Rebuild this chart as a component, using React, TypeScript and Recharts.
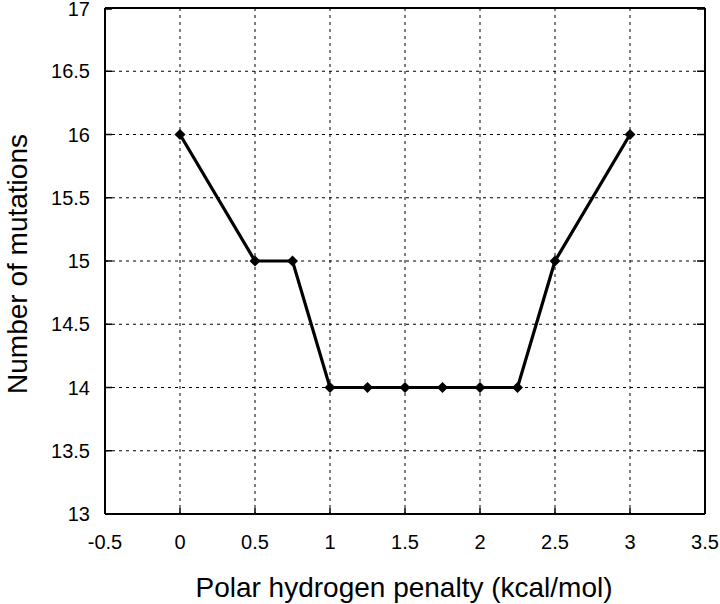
import { CartesianGrid, Label, Line, LineChart, ReferenceLine, XAxis, YAxis } from "recharts";

// Number of mutations as the polar hydrogen penalty is varied.
const penalty = [0, 0.5, 0.75, 1, 1.25, 1.5, 1.75, 2, 2.25, 2.5, 3];
const mutations = [16, 15, 15, 14, 14, 14, 14, 14, 14, 15, 16];
const xTicks = [-0.5, 0, 0.5, 1, 1.5, 2, 2.5, 3, 3.5];
const yTicks = [13, 13.5, 14, 14.5, 15, 15.5, 16, 16.5, 17];

const data = penalty.map((p, i) => ({ p, n: mutations[i] }));

const W = 720;
const H = 604;
const MARGIN = { top: 8, right: 15, bottom: 0, left: 0 };
const Y_AXIS_W = 105;
const X_AXIS_H = 90;
const PLOT_W = W - MARGIN.left - MARGIN.right - Y_AXIS_W;
const FONT = "'Liberation Sans', Arial, sans-serif";

function XTick({ x, y, payload }: any) {
  return (
    <g>
      <line x1={x} x2={x} y1={y} y2={y - 6} stroke="#000" strokeWidth={1.5} />
      <text x={x} y={y + 35} textAnchor="middle" fontSize={20} fontFamily={FONT} fill="#000">
        {payload.value}
      </text>
    </g>
  );
}

function YTick({ x, y, payload }: any) {
  return (
    <g>
      <line x1={x} x2={x + 7} y1={y} y2={y} stroke="#000" strokeWidth={1.5} />
      <line x1={x + PLOT_W - 8} x2={x + PLOT_W} y1={y} y2={y} stroke="#000" strokeWidth={1.5} />
      <text x={x - 15} y={y + 7} textAnchor="end" fontSize={20} fontFamily={FONT} fill="#000">
        {payload.value}
      </text>
    </g>
  );
}

function Diamond({ cx, cy }: any) {
  const r = 5.5;
  return <polygon points={`${cx},${cy - r} ${cx + r},${cy} ${cx},${cy + r} ${cx - r},${cy}`} fill="#000" />;
}

export default function App() {
  return (
    <div style={{ position: "absolute", left: 0, top: 0 }}>
      <LineChart width={W} height={H} data={data} margin={MARGIN}>
        <CartesianGrid stroke="#000" strokeDasharray="3 4" strokeWidth={1} />
        <XAxis
          dataKey="p"
          type="number"
          domain={[-0.5, 3.5]}
          ticks={xTicks}
          height={X_AXIS_H}
          tickSize={0}
          tickMargin={0}
          tickLine={false}
          tick={<XTick />}
          axisLine={{ stroke: "#000", strokeWidth: 2 }}
        >
          <Label
            content={({ viewBox }: any) => (
              <text
                x={viewBox.x + viewBox.width / 2 - 1}
                y={viewBox.y + 83}
                textAnchor="middle"
                fontSize={28}
                fontFamily={FONT}
                fill="#000"
              >
                Polar hydrogen penalty (kcal/mol)
              </text>
            )}
          />
        </XAxis>
        <YAxis
          type="number"
          domain={[13, 17]}
          ticks={yTicks}
          width={Y_AXIS_W}
          tickSize={0}
          tickMargin={0}
          tickLine={false}
          tick={<YTick />}
          axisLine={{ stroke: "#000", strokeWidth: 2 }}
        >
          <Label
            content={({ viewBox }: any) => {
              const cx = viewBox.x + 17;
              const cy = viewBox.y + viewBox.height / 2 + 3;
              return (
                <text
                  x={cx}
                  y={cy}
                  dy="0.35em"
                  transform={`rotate(-90 ${cx} ${cy})`}
                  textAnchor="middle"
                  fontSize={28}
                  fontFamily={FONT}
                  fill="#000"
                >
                  Number of mutations
                </text>
              );
            }}
          />
        </YAxis>
        <ReferenceLine x={3.5} stroke="#000" strokeWidth={2} />
        <ReferenceLine y={17} stroke="#000" strokeWidth={2} />
        <Line
          dataKey="n"
          stroke="#000"
          strokeWidth={3.2}
          dot={<Diamond />}
          activeDot={false}
          isAnimationActive={false}
        />
      </LineChart>
    </div>
  );
}
